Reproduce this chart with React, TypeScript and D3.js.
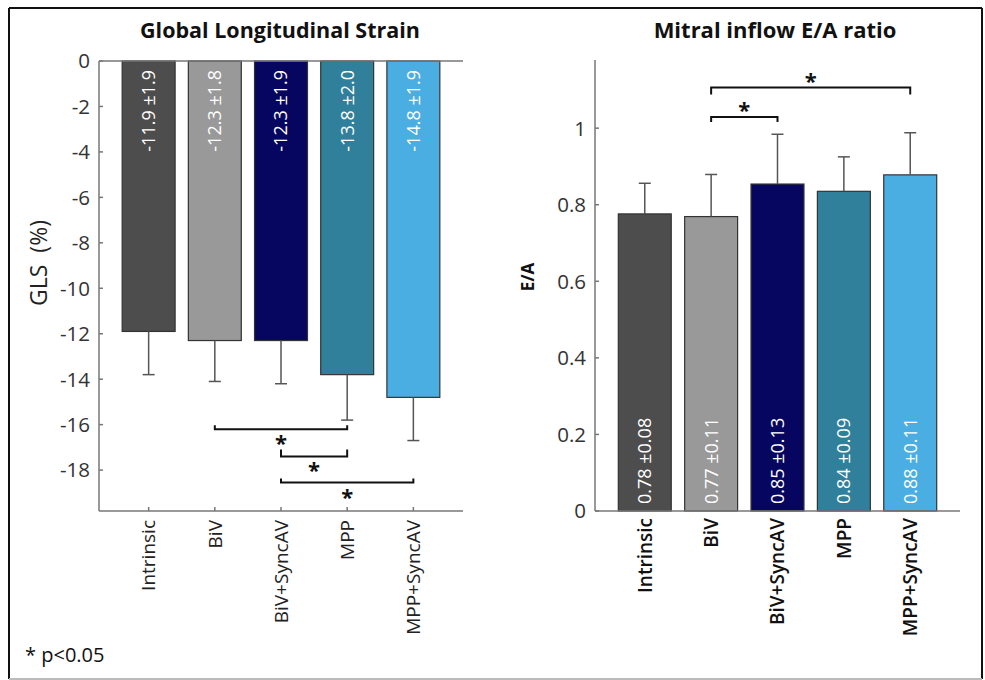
import React from "react";
import * as d3 from "d3";

const width = 985;
const height = 680;

const categories = ["Intrinsic", "BiV", "BiV+SyncAV", "MPP", "MPP+SyncAV"];
const barColors = ["#4d4d4d", "#999999", "#060660", "#31809b", "#4baee3"];

// Global longitudinal strain (%)
const glsMean = [-11.9, -12.3, -12.3, -13.8, -14.8];
const glsSd = [1.9, 1.8, 1.9, 2.0, 1.9];
const glsLabels = ["-11.9 \u00b11.9", "-12.3 \u00b11.8", "-12.3 \u00b11.9", "-13.8 \u00b12.0", "-14.8 \u00b11.9"];
const glsTicks = [0, -2, -4, -6, -8, -10, -12, -14, -16, -18];
// significance brackets: [from, to, level]
const glsBrackets: [number, number, number][] = [
  [1, 3, -16.2],
  [2, 3, -17.4],
  [2, 4, -18.55],
];

// Mitral inflow E/A ratio
const eaMean = [0.776, 0.769, 0.854, 0.835, 0.878];
const eaSd = [0.08, 0.11, 0.13, 0.09, 0.11];
const eaLabels = ["0.78 \u00b10.08", "0.77 \u00b10.11", "0.85 \u00b10.13", "0.84 \u00b10.09", "0.88 \u00b10.11"];
const eaTicks = [0, 0.2, 0.4, 0.6, 0.8, 1];
const eaBrackets: [number, number, number][] = [
  [1, 4, 1.106],
  [1, 2, 1.029],
];

const font = "'Open Sans', 'Noto Sans', sans-serif";
const axisColor = "#777";

// left chart scales
const xL = d3.scalePoint<string>().domain(categories).range([99, 463]).padding(0.75);
const yL = d3.scaleLinear().domain([0, -19.8]).range([61, 511]);
// right chart scales
const xR = d3.scalePoint<string>().domain(categories).range([595, 960]).padding(0.75);
const yR = d3.scaleLinear().domain([0, 1.178]).range([511, 60]);

const bw = xL.step() * 0.8;
const capW = 12;

const App = () => {
  return (
    <svg
      width={width}
      height={height}
      style={{ position: "absolute", left: 0, top: 0, display: "block", background: "#fff" }}
      fontFamily={font}
    >
      {/* frame */}
      <line x1={9} y1={8} x2={982} y2={8} stroke="#111" strokeWidth={2} />
      <line x1={9} y1={8} x2={9} y2={679} stroke="#111" strokeWidth={2} />
      <line x1={982} y1={8} x2={982} y2={679} stroke="#111" strokeWidth={2} />
      <line x1={9} y1={679} x2={982} y2={679} stroke="#bbb" strokeWidth={2} />

      {/* ---------- left: GLS ---------- */}
      <text x={280} y={38} textAnchor="middle" fontSize={21.5} fontWeight="bold" fill="#111">
        Global Longitudinal Strain
      </text>
      {categories.map((c, i) => {
        const cx = xL(c)!;
        return (
          <g key={c}>
            <rect
              x={cx - bw / 2}
              y={yL(0)}
              width={bw}
              height={yL(glsMean[i]) - yL(0)}
              fill={barColors[i]}
              stroke="#333"
              strokeWidth={1.2}
            />
            <line x1={cx} x2={cx} y1={yL(glsMean[i])} y2={yL(glsMean[i] - glsSd[i])} stroke="#555" strokeWidth={1.5} />
            <line
              x1={cx - capW / 2}
              x2={cx + capW / 2}
              y1={yL(glsMean[i] - glsSd[i])}
              y2={yL(glsMean[i] - glsSd[i])}
              stroke="#555"
              strokeWidth={1.5}
            />
            <text
              transform={`translate(${cx},70) rotate(-90)`}
              dy="0.36em"
              textAnchor="end"
              fontSize={18}
              fill="#fff"
            >
              {glsLabels[i]}
            </text>
            <line x1={cx} x2={cx} y1={yL(-19.8)} y2={yL(-19.8) - 4} stroke={axisColor} strokeWidth={1.5} />
            <text
              transform={`translate(${cx},520) rotate(-90)`}
              dy="0.36em"
              textAnchor="end"
              fontSize={19}
              fill="#222"
            >
              {c}
            </text>
          </g>
        );
      })}
      {/* axes */}
      <line x1={99} x2={463} y1={yL(0)} y2={yL(0)} stroke={axisColor} strokeWidth={1.5} />
      <line x1={99} x2={463} y1={yL(-19.8)} y2={yL(-19.8)} stroke={axisColor} strokeWidth={1.5} />
      <line x1={99} x2={99} y1={yL(0)} y2={yL(-19.8)} stroke={axisColor} strokeWidth={1.5} />
      {glsTicks.map((t) => (
        <g key={t}>
          <line x1={99} x2={103} y1={yL(t)} y2={yL(t)} stroke={axisColor} strokeWidth={1.5} />
          <text x={90} y={yL(t)} dy="0.36em" textAnchor="end" fontSize={20.5} fill="#333">
            {t}
          </text>
        </g>
      ))}
      <text transform="translate(47,263) rotate(-90)" textAnchor="middle" fontSize={23} fill="#222">
        GLS {"\u00a0"}(%)
      </text>
      {glsBrackets.map(([a, b, v], k) => {
        const x1 = xL(categories[a])!;
        const x2 = xL(categories[b])!;
        const y = yL(v);
        const tick = k === 1 ? 7 : 4;
        return (
          <g key={k}>
            <path d={`M${x1},${y - tick}V${y}H${x2}V${y - tick}`} fill="none" stroke="#111" strokeWidth={2} />
            <text x={(x1 + x2) / 2} y={y + 22} textAnchor="middle" fontSize={22} fontWeight="bold" fill="#111">
              *
            </text>
          </g>
        );
      })}
      <text x={25} y={662} fontSize={20} fill="#111">
        * p&lt;0.05
      </text>

      {/* ---------- right: E/A ---------- */}
      <text x={775} y={38} textAnchor="middle" fontSize={22} fontWeight="bold" fill="#111">
        Mitral inflow E/A ratio
      </text>
      {categories.map((c, i) => {
        const cx = xR(c)!;
        return (
          <g key={c}>
            <rect
              x={cx - bw / 2}
              y={yR(eaMean[i])}
              width={bw}
              height={yR(0) - yR(eaMean[i])}
              fill={barColors[i]}
              stroke="#333"
              strokeWidth={1.2}
            />
            <line x1={cx} x2={cx} y1={yR(eaMean[i])} y2={yR(eaMean[i] + eaSd[i])} stroke="#555" strokeWidth={1.5} />
            <line
              x1={cx - capW / 2}
              x2={cx + capW / 2}
              y1={yR(eaMean[i] + eaSd[i])}
              y2={yR(eaMean[i] + eaSd[i])}
              stroke="#555"
              strokeWidth={1.5}
            />
            <text
              transform={`translate(${cx},504) rotate(-90)`}
              dy="0.36em"
              textAnchor="start"
              fontSize={18}
              fill="#fff"
            >
              {eaLabels[i]}
            </text>
            <text
              transform={`translate(${cx},518) rotate(-90)`}
              dy="0.36em"
              textAnchor="end"
              fontSize={19}
              fontWeight={600}
              fill="#111"
            >
              {c}
            </text>
          </g>
        );
      })}
      <line x1={595} x2={960} y1={yR(0)} y2={yR(0)} stroke={axisColor} strokeWidth={1.5} />
      <line x1={595} x2={595} y1={yR(0)} y2={yR(1.178)} stroke={axisColor} strokeWidth={1.5} />
      {eaTicks.map((t) => (
        <g key={t}>
          <line x1={595} x2={599} y1={yR(t)} y2={yR(t)} stroke={axisColor} strokeWidth={1.5} />
          <text x={586} y={yR(t)} dy="0.36em" textAnchor="end" fontSize={20.5} fill="#333">
            {t}
          </text>
        </g>
      ))}
      <text transform="translate(534,277) rotate(-90)" textAnchor="middle" fontSize={17} fontWeight="bold" fill="#111">
        E/A
      </text>
      {eaBrackets.map(([a, b, v], k) => {
        const x1 = xR(categories[a])!;
        const x2 = xR(categories[b])!;
        const y = yR(v);
        const tick = k === 0 ? 7 : 5;
        return (
          <g key={k}>
            <path d={`M${x1},${y + tick}V${y}H${x2}V${y + tick}`} fill="none" stroke="#111" strokeWidth={2} />
            <text x={(x1 + x2) / 2} y={y + 1} textAnchor="middle" fontSize={22} fontWeight="bold" fill="#111">
              *
            </text>
          </g>
        );
      })}
    </svg>
  );
};

export default App;
